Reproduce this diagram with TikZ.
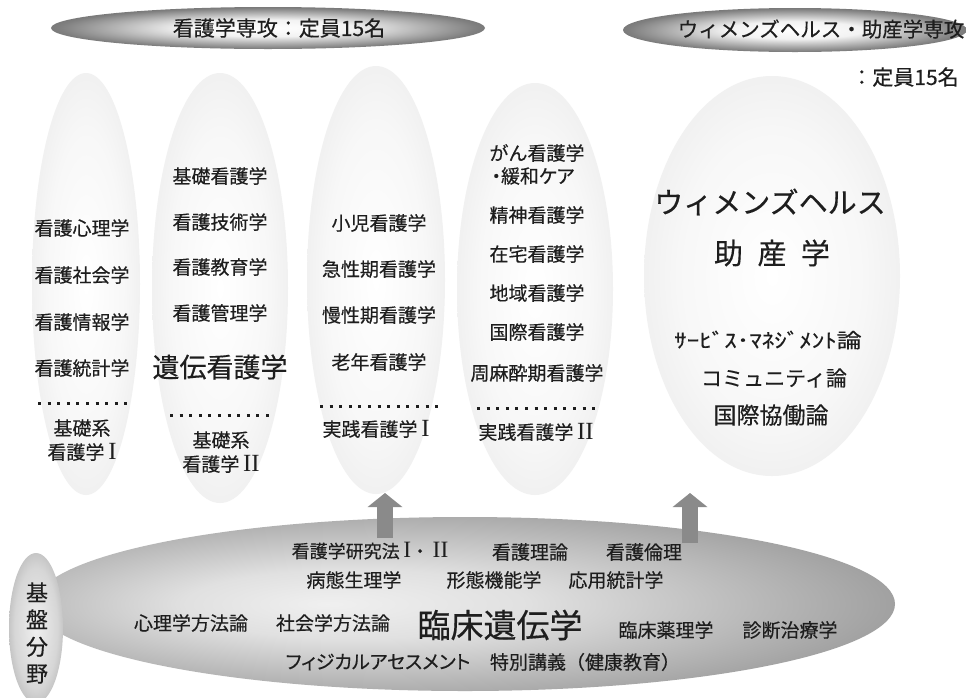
\documentclass[tikz,border=0pt]{standalone}
\usepackage{fontspec}
\usepackage{graphicx}
\setmainfont{Noto Sans CJK JP}[FakeBold=0.35]
\newfontfamily\pfont{Noto Sans CJK JP}[RawFeature=+palt,FakeBold=0.35]
\newfontfamily\romfont{Liberation Serif}[Scale=1.3]
\newcommand{\romI}{{\hspace{0.2em}\romfont I}}
\newcommand{\romII}{{\hspace{0.2em}\romfont II}}
\usetikzlibrary{shapes.geometric,arrows.meta}
\definecolor{tcol}{HTML}{1E1E1E}
\definecolor{arrcol}{HTML}{8A8A8A}
\pgfdeclareradialshading{colshade}{\pgfpoint{0bp}{0bp}}{color(0bp)=(white); color(18bp)=(white!97!black); color(50bp)=(black!15)}
\pgfdeclareradialshading{topshade}{\pgfpoint{0bp}{0bp}}{color(0bp)=(white); color(10bp)=(white!95!black); color(24bp)=(black!50); color(38bp)=(black!78); color(50bp)=(black!88)}
\pgfdeclareradialshading{baseshade}{\pgfpoint{-8bp}{0bp}}{color(0bp)=(black!6); color(10bp)=(black!12); color(50bp)=(black!66)}
\pgfdeclareradialshading{kibanshade}{\pgfpoint{0bp}{0bp}}{color(0bp)=(black!6); color(20bp)=(black!16); color(50bp)=(black!55)}
\begin{document}
\begin{tikzpicture}[x=1pt,y=-1pt,
  txt/.style={text=tcol, inner sep=0pt, font=\fontsize{19pt}{23pt}\selectfont},
  colell/.style={ellipse, shading=colshade, inner sep=0pt},
  topell/.style={ellipse, shading=topshade, inner sep=0pt},
  dotline/.style={line width=3pt, dash pattern=on 3pt off 6.6pt, draw=tcol},
  blockarrow/.style={line width=16pt, draw=arrcol, -{Triangle[length=14pt,width=34pt]}}
]
\useasboundingbox[fill=white] (0,0) rectangle (966,697);

% column ellipses
\node[colell, minimum width=108pt, minimum height=422pt] (c1) at (86,284) {};
\node[colell, minimum width=136pt, minimum height=430pt] (c2) at (220,288) {};
\node[colell, minimum width=138pt, minimum height=428pt] (c3) at (376,280) {};
\node[colell, minimum width=156pt, minimum height=412pt] (c4) at (535,289) {};
\node[colell, minimum width=256pt, minimum height=400pt] (c5) at (772,276) {};

% top ellipses
\node[topell, minimum width=434pt, minimum height=42pt] (t1) at (268,28) {};
\node[topell, minimum width=344pt, minimum height=44pt] (t2) at (795,30) {};
\node[txt, font=\fontsize{21pt}{24pt}\selectfont] (t1txt) at (279,28) {看護学専攻：定員15名};
\node[txt, font=\fontsize{20.5pt}{24pt}\selectfont] (t2txt) at (821,29) {ウィメンズヘルス・助産学専攻};
\node[txt, font=\fontsize{21pt}{24pt}\selectfont] (t2cap) at (905,77) {：定員15名};

% base ellipses
\node[ellipse, shading=baseshade, inner sep=0pt, minimum width=860pt, minimum height=174pt] (base) at (465,604) {};
\node[ellipse, shading=kibanshade, inner sep=0pt, minimum width=54pt, minimum height=150pt] (kiban) at (36,628) {};
\node[txt, font=\fontsize{22pt}{27pt}\selectfont, align=center] (kibantxt) at (37,633) {基\\盤\\分\\野};

% arrows
\coordinate (a1s) at (385,538);
\coordinate (a1t) at (385,493);
\coordinate (a2s) at (690,543);
\coordinate (a2t) at (690,493);
\draw[blockarrow] (a1s) -- (a1t);
\draw[blockarrow] (a2s) -- (a2t);

% column 1
\node[txt] (c1a) at (82,228) {看護心理学};
\node[txt] (c1b) at (82,275) {看護社会学};
\node[txt] (c1c) at (82,322) {看護情報学};
\node[txt] (c1d) at (82,368) {看護統計学};
\coordinate (d1a) at (38,403);
\coordinate (d1b) at (128,403);
\draw[dotline] (d1a) -- (d1b);
\node[txt] (c1e) at (82,428) {基礎系};
\node[txt] (c1f) at (82,452) {看護学\romI};

% column 2
\node[txt] (c2a) at (220,176) {基礎看護学};
\node[txt] (c2b) at (220,222) {看護技術学};
\node[txt] (c2c) at (220,267) {看護教育学};
\node[txt] (c2d) at (220,313) {看護管理学};
\node[txt, font=\fontsize{27pt}{30pt}\selectfont] (c2e) at (220,367) {遺伝看護学};
\coordinate (d2a) at (170,415);
\coordinate (d2b) at (272,415);
\draw[dotline] (d2a) -- (d2b);
\node[txt] (c2f) at (221,440) {基礎系};
\node[txt] (c2g) at (221,464) {看護学\romII};

% column 3
\node[txt] (c3a) at (379,223) {小児看護学};
\node[txt] (c3b) at (379,269) {急性期看護学};
\node[txt] (c3c) at (379,315) {慢性期看護学};
\node[txt] (c3d) at (379,362) {老年看護学};
\coordinate (d3a) at (320,406);
\coordinate (d3b) at (440,406);
\draw[dotline] (d3a) -- (d3b);
\node[txt] (c3e) at (376,429) {実践看護学\romI};

% column 4
\node[txt] (c4a) at (537,153) {がん看護学};
\node[txt] (c4b) at (533,176) {\pfont ・緩和ケア};
\node[txt] (c4c) at (537,215) {精神看護学};
\node[txt] (c4d) at (537,254) {在宅看護学};
\node[txt] (c4e) at (537,293) {地域看護学};
\node[txt] (c4f) at (537,332) {国際看護学};
\node[txt] (c4g) at (537,373) {周麻酔期看護学};
\coordinate (d4a) at (477,408);
\coordinate (d4b) at (597,408);
\draw[dotline] (d4a) -- (d4b);
\node[txt] (c4h) at (536,432) {実践看護学\romII};

% column 5
\node[txt, font=\fontsize{29pt}{32pt}\selectfont] (c5a) at (770,202) {ウィメンズヘルス};
\node[txt, font=\fontsize{29pt}{32pt}\selectfont] (c5b) at (772,253) {助\hspace{0.5em}産\hspace{0.5em}学};
\node[txt, font=\fontsize{20pt}{24pt}\selectfont] (c5c) at (768,340) {\scalebox{1.25}[1]{ｻｰﾋﾞｽ･ﾏﾈｼﾞﾒﾝﾄ論}};
\node[txt, font=\fontsize{21pt}{24pt}\selectfont] (c5d) at (774,378) {コミュニティ論};
\node[txt, font=\fontsize{23pt}{26pt}\selectfont] (c5e) at (771,415) {国際協働論};

% base texts
\node[txt, font=\fontsize{18pt}{22pt}\selectfont] (b1) at (370,551) {看護学研究法\romI・\romII};
\node[txt] (b2) at (530,552) {看護理論};
\node[txt] (b3) at (644,552) {看護倫理};
\node[txt] (b4) at (354,580) {病態生理学};
\node[txt] (b5) at (494,580) {形態機能学};
\node[txt] (b6) at (616,580) {応用統計学};
\node[txt] (b7) at (191,623) {心理学方法論};
\node[txt] (b8) at (333,623) {社会学方法論};
\node[txt, font=\fontsize{33pt}{36pt}\selectfont] (b9) at (500,625) {臨床遺伝学};
\node[txt] (b10) at (666,630) {臨床薬理学};
\node[txt] (b11) at (790,630) {診断治療学};
\node[txt] (b12) at (378,662) {\pfont フィジカルアセスメント};
\node[txt] (b13) at (585,662) {特別講義（健康教育）};
\end{tikzpicture}
\end{document}
